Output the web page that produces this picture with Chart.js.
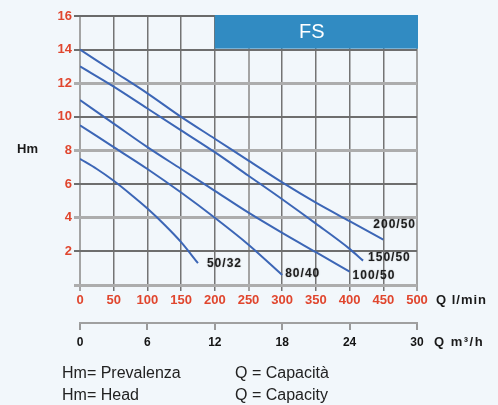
<!DOCTYPE html>
<html>
<head>
<meta charset="utf-8">
<script src="https://cdn.jsdelivr.net/npm/chart.js@4.4.0/dist/chart.umd.min.js"></script>
<style>
  html, body { margin: 0; padding: 0; background: #f2f7fb; }
  #wrap { position: relative; width: 498px; height: 405px; }
  #myChart { position: absolute; left: 0; top: 0; }
  .lbl { position: absolute; font: bold 13px "Liberation Sans", Arial, sans-serif; color: #1a1a1a; white-space: nowrap; line-height: 14px; }
  .note { position: absolute; font: 16px "Liberation Sans", Arial, sans-serif; color: #222; white-space: nowrap; line-height: 18px; }
</style>
</head>
<body>
<div id="wrap">
  <canvas id="myChart" width="498" height="405"></canvas>
  <div class="lbl" style="left:17px;top:142px">Hm</div>
  <div class="lbl" style="left:436px;top:293px;letter-spacing:1px">Q l/min</div>
  <div class="lbl" style="left:434px;top:335px;letter-spacing:1.5px">Q m³/h</div>
  <div class="note" style="left:62px;top:364px">Hm= Prevalenza</div>
  <div class="note" style="left:235px;top:364px">Q = Capacità</div>
  <div class="note" style="left:62px;top:386px">Hm= Head</div>
  <div class="note" style="left:235px;top:386px">Q = Capacity</div>
</div>
<script>
// pump models, one curve each
const models = ['200/50', '150/50', '100/50', '80/40', '50/32'];

// flow in l/min
const flow200_50 = [0, 50, 100, 150, 200, 250, 300, 350, 400, 450];
const flow150_50 = [0, 50, 100, 150, 200, 250, 300, 350, 400, 420];
const flow100_50 = [0, 50, 100, 150, 200, 250, 300, 350, 400];
const flow80_40 = [0, 50, 100, 150, 200, 250, 300];
const flow50_32 = [0, 25, 50, 75, 100, 125, 150, 175];

// head in m
const head200_50 = [14, 12.7, 11.4, 10.0, 8.7, 7.4, 6.1, 4.9, 3.8, 2.7];
const head150_50 = [13, 11.8, 10.5, 9.2, 7.9, 6.5, 5.1, 3.65, 2.15, 1.45];
const head100_50 = [11, 9.6, 8.2, 6.9, 5.6, 4.3, 3.1, 1.95, 0.8];
const head80_40 = [9.5, 8.2, 6.9, 5.5, 4.0, 2.4, 0.6];
const head50_32 = [7.5, 6.9, 6.2, 5.4, 4.55, 3.6, 2.55, 1.3];

// FS range band at the top
const fsFlow = [200, 500];
const fsHead = [14, 16];

const flows = [flow200_50, flow150_50, flow100_50, flow80_40, flow50_32];
const heads = [head200_50, head150_50, head100_50, head80_40, head50_32];

// label offsets from the end of each curve (px)
const labelOffsets = [[-10, -15], [5, -3], [3, 4], [3, -1], [9, 1]];

const FONT = '"Liberation Sans", Arial, sans-serif';
const RED = '#e0462e';

const fsBand = {
  id: 'fsBand',
  beforeDatasetsDraw(chart) {
    const { ctx, scales: { x, y } } = chart;
    const l = x.getPixelForValue(fsFlow[0]);
    const r = x.getPixelForValue(fsFlow[1]);
    const t = y.getPixelForValue(fsHead[1]);
    const b = y.getPixelForValue(fsHead[0]);
    ctx.save();
    ctx.fillStyle = '#318bc2';
    ctx.fillRect(l, t - 1, r - l + 1, b - t);
    ctx.fillStyle = '#fff';
    ctx.font = '20px ' + FONT;
    ctx.textAlign = 'center';
    ctx.textBaseline = 'middle';
    ctx.fillText('FS', (l + r) / 2 - 4, (t + b) / 2);
    ctx.restore();
  }
};

const curveLabels = {
  id: 'curveLabels',
  afterDatasetsDraw(chart) {
    const { ctx } = chart;
    ctx.save();
    ctx.font = 'bold 12px ' + FONT;
    ctx.letterSpacing = '1px';
    ctx.fillStyle = '#1e1e1e';
    ctx.textBaseline = 'middle';
    ctx.shadowColor = 'rgba(0,0,0,0.35)';
    ctx.shadowBlur = 1.5;
    chart.data.datasets.forEach((ds, i) => {
      const pts = chart.getDatasetMeta(i).data;
      const last = pts[pts.length - 1];
      ctx.fillText(ds.label, last.x + labelOffsets[i][0], last.y + labelOffsets[i][1]);
    });
    ctx.restore();
  }
};

const hColor = v => {
  if (v % 2 !== 0) return 'rgba(0,0,0,0)';
  if (v === 16) return '#6a6a6a';
  return v % 4 === 0 ? '#adadad' : '#6e6e6e';
};
const hWidth = v => {
  if (v % 2 !== 0) return 2;
  if (v === 16) return 2;
  return v % 4 === 0 ? 3 : 2;
};

let ctx = document.getElementById('myChart').getContext('2d');
let chart = new Chart(ctx, {
  type: 'line',
  data: {
    datasets: models.map((m, i) => ({
      label: m,
      data: flows[i].map((q, j) => ({ x: q, y: heads[i][j] })),
      borderColor: '#3c66b6',
      borderWidth: 2,
      pointRadius: 0,
      cubicInterpolationMode: 'monotone',
      fill: false
    }))
  },
  options: {
    responsive: false,
    animation: false,
    devicePixelRatio: 1,
    layout: { padding: { left: 0, right: 81, top: 16, bottom: 52 } },
    plugins: { legend: { display: false }, tooltip: { enabled: false } },
    scales: {
      x: {
        type: 'linear', position: 'bottom', weight: 0,
        min: 0, max: 500,
        afterFit: s => { s.height = 38; },
        ticks: { stepSize: 50, color: RED, padding: 2, maxRotation: 0, font: { family: FONT, size: 13, weight: 'bold' } },
        grid: {
          tickLength: 6,
          color: c => (c.tick.value % 250 === 0 ? '#a4a4a4' : '#747474'),
          lineWidth: c => (c.tick.value % 250 === 0 ? 2 : 1.5)
        },
        border: { display: false }
      },
      x2: {
        type: 'linear', position: 'bottom', weight: 1,
        min: 0, max: 30,
        afterFit: s => { s.height = 30; },
        ticks: { stepSize: 6, color: '#141414', padding: 5, maxRotation: 0, font: { family: FONT, size: 12, weight: 'bold' } },
        grid: { drawOnChartArea: false, tickLength: 7, color: '#9a9a9a', lineWidth: 2 },
        border: { display: true, color: '#a0a0a0', width: 2 }
      },
      y: {
        min: 0, max: 16,
        afterFit: s => { s.width = 80; },
        ticks: {
          stepSize: 1, color: RED, padding: 2,
          font: { family: FONT, size: 13, weight: 'bold' },
          callback: v => (v % 2 === 0 && v > 0 ? v : '')
        },
        grid: {
          tickLength: 6,
          color: c => hColor(c.tick.value),
          lineWidth: c => hWidth(c.tick.value),
          tickColor: c => (c.tick.value % 2 !== 0 ? '#6e6e6e' : hColor(c.tick.value)),
          tickWidth: c => hWidth(c.tick.value)
        },
        border: { display: false }
      }
    }
  },
  plugins: [fsBand, curveLabels]
});
</script>
</body>
</html>
